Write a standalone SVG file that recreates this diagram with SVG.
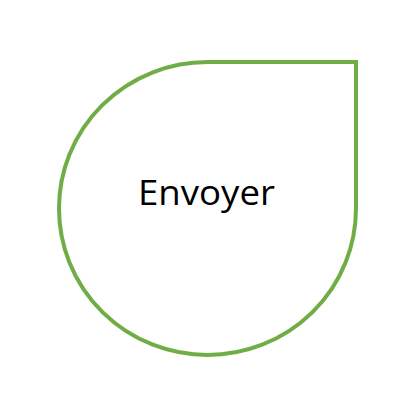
<svg xmlns="http://www.w3.org/2000/svg" width="415" height="419" viewBox="0 0 415 419">
<style>
.shape{fill:#FFFFFF;stroke:#70AD47;stroke-width:4}
.lbl{font-family:"Open Sans","Noto Sans","Liberation Sans",sans-serif;font-size:35px;fill:#000000}
</style>
<rect width="415" height="419" fill="#FFFFFF"/>
<g id="node-envoyer">
<path class="shape" d="M 207.5 62 L 356 62 L 356 208.5 A 148.5 146.5 0 1 1 207.5 62 Z"/>
<text class="lbl" x="138" y="205" textLength="137" lengthAdjust="spacingAndGlyphs">Envoyer</text>
</g>
<g id="connectors"/>
</svg>
